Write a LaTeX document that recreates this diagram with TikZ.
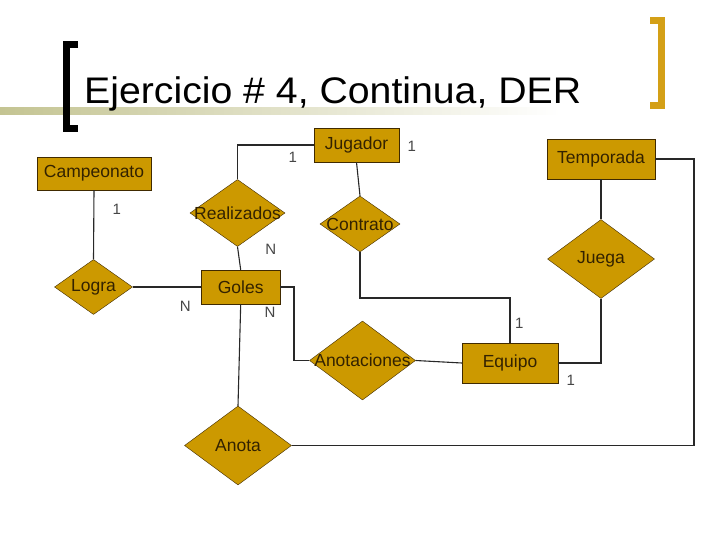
\documentclass[tikz,border=0pt]{standalone}
\usepackage{fontspec}
\setmainfont{Liberation Sans}
\usetikzlibrary{shapes.geometric}

\definecolor{gold}{RGB}{204,153,0}
\definecolor{entborder}{RGB}{64,42,0}
\definecolor{enttext}{RGB}{51,34,0}
\definecolor{bracketgold}{RGB}{212,160,23}
\definecolor{olivebar}{RGB}{196,196,146}
\definecolor{linegray}{RGB}{40,40,40}
\definecolor{cardgray}{RGB}{70,70,70}

\newcommand{\ovl}[1]{\makebox[0pt]{#1}}

\tikzset{
  entity/.style={draw=entborder, fill=gold, text=enttext, inner sep=0pt,
    font=\fontsize{17.5}{18}\selectfont},
  relation/.style={diamond, draw=entborder, fill=gold, text=enttext, inner sep=0pt,
    font=\fontsize{17.5}{18}\selectfont},
  card/.style={text=cardgray, inner sep=0pt, font=\fontsize{15}{15}\selectfont},
  link/.style={draw=linegray, line width=1.1pt}
}

\begin{document}
\begin{tikzpicture}[x=1pt, y=-1pt]

    \useasboundingbox (0,0) rectangle (720,540);

    % --- Title bar ---
    \shade[left color=olivebar, right color=white] (0,108) rectangle (560,115);
    \draw[line width=7pt] (78,44.5) -- (66.5,44.5) -- (66.5,128.5) -- (78,128.5);
    \draw[line width=7pt, draw=bracketgold] (650,20.5) -- (661.5,20.5) -- (661.5,105.5) -- (650,105.5);
    \node[anchor=base west, inner sep=0pt, font=\fontsize{37}{40}\selectfont, xscale=1.06, transform shape]
      (title) at (84,104) {Ejercicio \# 4, Continua, DER};

    % --- Entities ---
    \node[entity, minimum width=114pt, minimum height=33pt] (campeonato) at (94,173.5) {Campeonato};
    \node[entity, minimum width=85pt, minimum height=34pt] (jugador) at (356.5,145) {Jugador};
    \node[entity, minimum width=108pt, minimum height=40pt] (temporada) at (601,159) {Temporada};
    \node[entity, minimum width=79pt, minimum height=34pt] (goles) at (240.7,287) {Goles};
    \node[entity, minimum width=96pt, minimum height=40pt] (equipo) at (510,363) {Equipo};

    % --- Relations ---
    \node[relation, minimum width=95pt, minimum height=67pt] (realizados) at (237.5,213) {\ovl{Realizados}};
    \node[relation, minimum width=80pt, minimum height=56pt] (contrato) at (360,224) {\ovl{Contrato}};
    \node[relation, minimum width=107pt, minimum height=79pt] (juega) at (601,259) {\ovl{Juega}};
    \node[relation, minimum width=78pt, minimum height=55pt] (logra) at (93.5,287) {\ovl{Logra}};
    \node[relation, minimum width=106pt, minimum height=79pt] (anotaciones) at (362.5,360.5) {\ovl{Anotaciones}};
    \node[relation, minimum width=107pt, minimum height=79pt] (anota) at (238,445.5) {\ovl{Anota}};

    % --- Bends ---
    \coordinate (kcontrato) at (0,298);
    \coordinate (ktemporada) at (694,300);
    \coordinate (kgoles) at (294,320);

    % --- Connectors ---
    \draw[link] (campeonato.south) -- (logra.north);
    \draw[link] (logra.east) -- (goles.west);
    \draw[link] (realizados.north) |- (jugador.west);
    \draw[link] (realizados.south) -- (goles.north);
    \draw[link] (jugador.south) -- (contrato.north);
    \draw[link] (contrato.south) -- (contrato.south |- kcontrato) -| (equipo.north);
    \draw[link] (temporada.south) -- (juega.north);
    \draw[link] (juega.south) |- (equipo.east);
    \draw[link] (temporada.east) -| (ktemporada) |- (anota.east);
    \draw[link] (goles.south) -- (anota.north);
    \draw[link] (goles.east) -| (kgoles) |- (anotaciones.west);
    \draw[link] (anotaciones.east) -- (equipo.west);

    % --- Cardinalities ---
    \node[card] (cjugrea) at (292.7,157.7) {1};
    \node[card] (cjugcon) at (411.7,146.7) {1};
    \node[card] (ccamlog) at (116.7,209.3) {1};
    \node[card] (creagol) at (270.7,249.3) {N};
    \node[card] (clogoll) at (185.3,306.7) {N};
    \node[card] (cgolann) at (270,312.3) {N};
    \node[card] (cequcon) at (519.3,323.3) {1};
    \node[card] (cequjue) at (570.7,380) {1};

\end{tikzpicture}
\end{document}
